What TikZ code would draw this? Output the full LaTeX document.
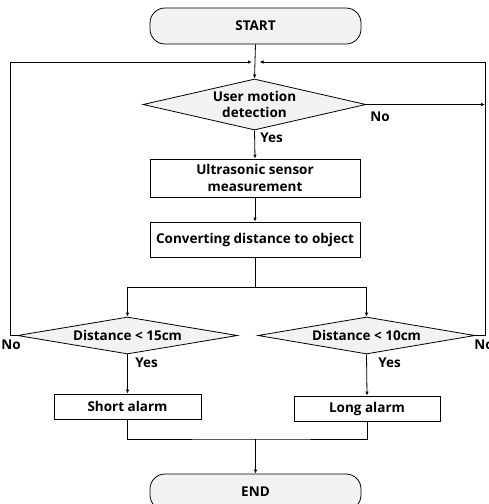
\documentclass[tikz,border=0pt]{standalone}
\usepackage{fontspec}
\setmainfont{Open Sans}
\usetikzlibrary{shapes.geometric,arrows.meta}
\definecolor{termfill}{HTML}{F2F2F2}
\begin{document}
\begin{tikzpicture}[x=1pt,y=-1pt,
  line width=0.8pt,
  every node/.style={font=\bfseries\fontsize{13.5}{16.5}\selectfont},
  term/.style={draw, rounded corners=15pt, fill=termfill, minimum width=211pt, minimum height=36pt, inner sep=0pt},
  proc/.style={draw, fill=white, align=center, inner sep=0pt},
  dec/.style={draw, diamond, fill=termfill, inner sep=0pt},
  lbl/.style={anchor=west, inner sep=0pt},
  arr/.style={-{Latex[length=4pt,width=3.5pt]}}]
\useasboundingbox (0,0) rectangle (489,504);
\node[term] (start) at (255.5,26) {START};
\node[dec, minimum width=223pt, minimum height=51pt, label={[align=center]center:User motion\\detection}] (d1) at (254.5,104.5) {};
\node[proc, minimum width=210pt, minimum height=38pt] (b1) at (255,178) {Ultrasonic sensor\\measurement};
\node[proc, minimum width=210pt, minimum height=35pt] (b2) at (255,239.5) {Converting distance to object};
\node[dec, minimum width=220pt, minimum height=37pt, label={center:Distance < 15cm}] (dL) at (127.5,335.5) {};
\node[dec, minimum width=217pt, minimum height=37pt, label={center:Distance < 10cm}] (dR) at (366.5,335.5) {};
\node[proc, minimum width=147pt, minimum height=25pt] (sa) at (127.5,406.5) {Short alarm};
\node[proc, minimum width=146pt, minimum height=25pt] (la) at (367,408.5) {Long alarm};
\node[term] (end) at (255.5,492) {END};

\coordinate (jl) at (252,62);
\coordinate (jr) at (259.5,62);
\coordinate (rn) at (485,104.5);
\coordinate (split) at (255,287);
\coordinate (m) at (255.5,439);

\draw[arr] (start.south) -- (d1.north);
\draw[arr] (dL.west) -- (10,335.5) -- (10,62) -- (jl);
\draw[arr] (dR.east) -- (485,335.5) -- (485,62) -- (jr);
\draw[arr] (d1.east) -- (rn);
\draw[arr] (d1.south) -- (b1.north);
\draw[arr] (b1.south) -- (b2.north);
\draw (b2.south) -- (split);
\draw[arr] (split) -| (dL.north);
\draw[arr] (split) -| (dR.north);
\draw[arr] (dL.south) -- (sa.north);
\draw[arr] (dR.south) -- (la.north);
\draw (sa.south) |- (m) -| (la.south);
\draw[arr] (m) -- (end.north);

\node[lbl] (no1) at (370,117) {No};
\node[lbl] (yes1) at (260,138) {Yes};
\node[lbl] (yes2) at (135,363) {Yes};
\node[lbl] (yes3) at (378,363) {Yes};
\node[lbl] (no2) at (1,345) {No};
\node[lbl] (no3) at (474,345) {No};
\end{tikzpicture}
\end{document}
